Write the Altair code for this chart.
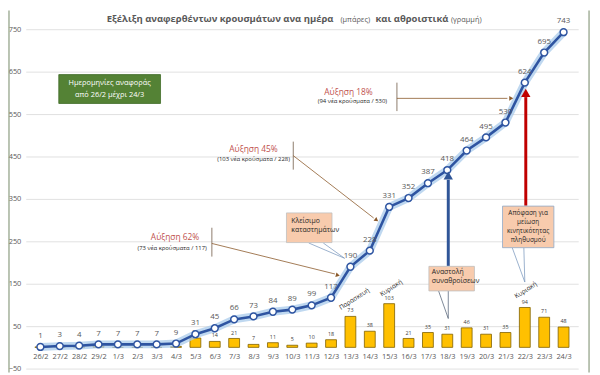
import altair as alt
import pandas as pd

# ---------------- data ----------------
dates = ['26/2', '27/2', '28/2', '29/2', '1/3', '2/3', '3/3', '4/3', '5/3', '6/3',
         '7/3', '8/3', '9/3', '10/3', '11/3', '12/3', '13/3', '14/3', '15/3', '16/3',
         '17/3', '18/3', '19/3', '20/3', '21/3', '22/3', '23/3', '24/3']
cumulative = [1, 3, 4, 7, 7, 7, 7, 9, 31, 45, 66, 73, 84, 89, 99, 117, 190, 228,
              331, 352, 387, 418, 464, 495, 530, 624, 695, 743]
daily = [1, 2, 1, 3, 0, 0, 0, 2, 22, 14, 21, 7, 11, 5, 10, 18, 73, 38, 103, 21,
         35, 31, 46, 31, 35, 94, 71, 48]
first_labelled_bar = '5/3'
y_ticks = [-50, 50, 150, 250, 350, 450, 550, 650, 750]

title_bold_1 = 'Εξέλιξη αναφερθέντων κρουσμάτων ανα ημέρα'
title_small_1 = '(μπάρες)'
title_bold_2 = 'και αθροιστικά'
title_small_2 = '(γραμμή)'

# annotation content (positions in data units: x = day index, y = cases)
box_x = [0.95, 12.7, 20.05, 23.85]
box_x2 = [6.2, 15.05, 22.4, 26.5]
box_y = [643, 317, 191, 333]
box_y2 = [575, 247, 133, 235]
box_fill = ['#548235', '#F8CBAD', '#F8CBAD', '#F8CBAD']
box_stroke = ['#3E6B26', '#BFBFBF', '#BFBFBF', '#8EA9C8']

note_text = ['Ημερομηνίες αναφοράς', 'από 26/2 μέχρι 24/3',
             'Κλείσιμο', 'καταστημάτων',
             'Αναστολή', 'συναθροίσεων',
             'Απόφαση για', 'μείωση', 'κινητικότητας', 'πληθυσμού']
note_x = [3.575, 3.575, 12.95, 12.95, 20.2, 20.2, 25.17, 25.17, 25.17, 25.17]
note_y = [622, 594, 298, 277, 177, 156, 317, 296, 275, 254]
note_align = ['center', 'center', 'left', 'left', 'left', 'left',
              'center', 'center', 'center', 'center']
note_color = ['#FFFFFF', '#FFFFFF'] + ['#262626'] * 8
note_size = [7.5, 7.5, 7, 7, 7, 7, 6.5, 6.5, 6.5, 6.5]

inc_text = ['Αύξηση 62%', '(73 νέα κρούσματα / 117)',
            'Αύξηση 45%', '(103 νέα κρούσματα / 228)',
            'Αύξηση 18%', '(94 νέα κρούσματα / 530)']
inc_x = [6.95, 6.8, 11.0, 11.0, 15.9, 16.1]
inc_y = [259, 235, 468, 445, 603, 580]
inc_color = ['#C0504D', '#262626'] * 3
inc_size = [8.5, 6, 8.5, 6, 8.5, 6]

day_names = ['Παρασκευή', 'Κυριακή', 'Κυριακή']
day_x = [16.2, 18.1, 25.05]
day_y = [114, 140, 135]

# line segments: brackets, arrows, callouts
seg_x = [8.85, 8.85, 13.05, 13.05, 18.4, 18.4,
         21.05, 25.05,
         13.85, 14.6, 20.55, 21.05, 24.35, 24.95]
seg_x2 = [8.85, 15.2, 13.05, 17.2, 18.4, 24.1,
          21.05, 25.05,
          15.7, 15.7, 21.05, 21.05, 25.0, 25.0]
seg_y = [282, 245, 485, 452, 624, 587,
         192, 334,
         246, 246, 133, 133, 235, 235]
seg_y2 = [214, 173, 419, 305, 557, 587,
          395, 590,
          210, 210, 68, 68, 154, 154]
seg_color = ['#8C7B6B', '#8B5A2B', '#8C7B6B', '#8B5A2B', '#8C7B6B', '#8B5A2B',
             '#2F5597', '#C00000',
             '#6F8FB8', '#6F8FB8', '#44546A', '#44546A', '#6F8FB8', '#6F8FB8']
seg_width = [1, 0.8, 1, 0.8, 1, 0.8, 3, 3, 0.7, 0.7, 0.7, 0.7, 0.7, 0.7]

head_x = [15.35, 17.35, 24.3, 21.05, 25.05]
head_y = [170, 300, 587, 405, 600]
head_angle = [104, 127, 90, 0, 0]
head_color = ['#8B5A2B', '#8B5A2B', '#8B5A2B', '#2F5597', '#C00000']
head_size = [22, 22, 22, 90, 90]

# ---------------- tables ----------------
start = dates.index(first_labelled_bar)
main = pd.DataFrame({
    'x': list(range(len(dates))),
    'date': dates,
    'cum': cumulative,
    'daily': daily,
    'blabel': [str(v) if i >= start else '' for i, v in enumerate(daily)],
})
boxes = pd.DataFrame({'x': box_x, 'x2': box_x2, 'y': box_y, 'y2': box_y2,
                      'fill': box_fill, 'stroke': box_stroke})
notes = pd.DataFrame({'x': note_x, 'y': note_y, 't': note_text,
                      'a': note_align, 'c': note_color, 's': note_size})
incs = pd.DataFrame({'x': inc_x, 'y': inc_y, 't': inc_text, 'c': inc_color, 's': inc_size})
days = pd.DataFrame({'x': day_x, 'y': day_y, 't': day_names})
segs = pd.DataFrame({'x': seg_x, 'x2': seg_x2, 'y': seg_y, 'y2': seg_y2,
                     'c': seg_color, 'w': seg_width})
heads = pd.DataFrame({'x': head_x, 'y': head_y, 'a': head_angle,
                      'c': head_color, 's': head_size})

FONT = 'Open Sans'
label_expr = '[' + ','.join("'" + d + "'" for d in dates) + '][datum.value]'

xs = alt.Scale(domain=[-0.5, len(dates) - 0.5], nice=False, zero=False)
ys = alt.Scale(domain=[-50, 750], nice=False, zero=False)

X = alt.X('x:Q', scale=xs, title=None,
          axis=alt.Axis(values=list(range(len(dates))), labelExpr=label_expr,
                        grid=False, ticks=False, domain=False, offset=-21.5,
                        labelPadding=5, labelFontSize=7.5, labelColor='#595959',
                        labelFont=FONT, labelOverlap=False))
Y_axis = alt.Axis(values=y_ticks, grid=True, gridColor='#D9D9D9', gridWidth=0.8,
                  ticks=False, domain=False, labelPadding=5, labelFontSize=7.5,
                  labelColor='#595959', labelFont=FONT)


def Yf(field):
    return alt.Y(field, scale=ys, title=None, axis=Y_axis)


base = alt.Chart(main)

bars = base.mark_bar(size=11, color='#FFC000', stroke='#7F6000', strokeWidth=0.8).encode(
    x=X, y=Yf('daily:Q'), y2=alt.datum(0))
bar_labels = base.mark_text(dy=-6, fontSize=5.5, color='#404040', font=FONT).encode(
    x=X, y=Yf('daily:Q'), text='blabel:N')
glow = base.mark_line(color='#A9CBEB', strokeWidth=8, opacity=0.75).encode(x=X, y=Yf('cum:Q'))
line = base.mark_line(color='#2E54A1', strokeWidth=2.6).encode(x=X, y=Yf('cum:Q'))
pts = base.mark_point(shape='circle', filled=True, fill='white', stroke='#2E54A1',
                      strokeWidth=1.5, size=48, opacity=1).encode(x=X, y=Yf('cum:Q'))
line_labels = base.mark_text(dy=-11, fontSize=8, color='#595959', font=FONT).encode(
    x=X, y=Yf('cum:Q'), text='cum:Q')

box_layer = alt.Chart(boxes).mark_rect(strokeWidth=0.8).encode(
    x=X, x2='x2:Q', y=Yf('y:Q'), y2='y2:Q',
    fill=alt.Fill('fill:N', scale=None), stroke=alt.Stroke('stroke:N', scale=None))

note_left = alt.Chart(notes).transform_filter("datum.a == 'left'").mark_text(
    align='left', font=FONT).encode(
    x=X, y=Yf('y:Q'), text='t:N', color=alt.Color('c:N', scale=None),
    size=alt.Size('s:Q', scale=None))
note_center = alt.Chart(notes).transform_filter("datum.a == 'center'").mark_text(
    align='center', font=FONT).encode(
    x=X, y=Yf('y:Q'), text='t:N', color=alt.Color('c:N', scale=None),
    size=alt.Size('s:Q', scale=None))

inc_layer = alt.Chart(incs).mark_text(align='center', font=FONT).encode(
    x=X, y=Yf('y:Q'), text='t:N', color=alt.Color('c:N', scale=None),
    size=alt.Size('s:Q', scale=None))

day_layer = alt.Chart(days).mark_text(angle=327, fontSize=6.5, color='#262626', font=FONT).encode(
    x=X, y=Yf('y:Q'), text='t:N')

seg_layer = alt.Chart(segs).mark_rule().encode(
    x=X, x2='x2:Q', y=Yf('y:Q'), y2='y2:Q',
    color=alt.Color('c:N', scale=None), strokeWidth=alt.StrokeWidth('w:Q', scale=None))

head_layer = alt.Chart(heads).mark_point(shape='triangle-up', filled=True, opacity=1).encode(
    x=X, y=Yf('y:Q'), angle=alt.Angle('a:Q', scale=None),
    color=alt.Color('c:N', scale=None), size=alt.Size('s:Q', scale=None))

one = pd.DataFrame({'k': [0]})
tcol = '#595959'
title_layers = [
    alt.Chart(one).mark_text(align='center', baseline='middle', fontSize=9.6, fontWeight='bold',
                             font=FONT, color=tcol).encode(
        x=alt.value(197), y=alt.value(-10), text=alt.value(title_bold_1)),
    alt.Chart(one).mark_text(align='center', baseline='middle', fontSize=7.5,
                             font=FONT, color=tcol).encode(
        x=alt.value(334), y=alt.value(-9.5), text=alt.value(title_small_1)),
    alt.Chart(one).mark_text(align='center', baseline='middle', fontSize=9.6, fontWeight='bold',
                             font=FONT, color=tcol).encode(
        x=alt.value(391.5), y=alt.value(-10), text=alt.value(title_bold_2)),
    alt.Chart(one).mark_text(align='center', baseline='middle', fontSize=7.5,
                             font=FONT, color=tcol).encode(
        x=alt.value(446.5), y=alt.value(-9.5), text=alt.value(title_small_2)),
]
border = alt.Chart(one).mark_rule(color='#8C9C80', strokeWidth=1.2).encode(
    x=alt.value(571), y=alt.value(-19), y2=alt.value(348))
border_l = alt.Chart(one).mark_rule(color='#8C9C80', strokeWidth=1.2).encode(
    x=alt.value(-17), y=alt.value(-19), y2=alt.value(348))

chart = alt.layer(
    bars, bar_labels, glow, line, pts, line_labels,
    seg_layer, head_layer, box_layer, note_left, note_center, inc_layer, day_layer,
    *title_layers, border, border_l
).properties(
    width=560, height=344,
    padding={'left': 18, 'top': 19, 'right': 14, 'bottom': 4},
    autosize=alt.AutoSizeParams(type='none'),
    background='white'
).configure_view(stroke=None)

chart.save('out.html', embed_options={'renderer': 'svg', 'actions': False})
